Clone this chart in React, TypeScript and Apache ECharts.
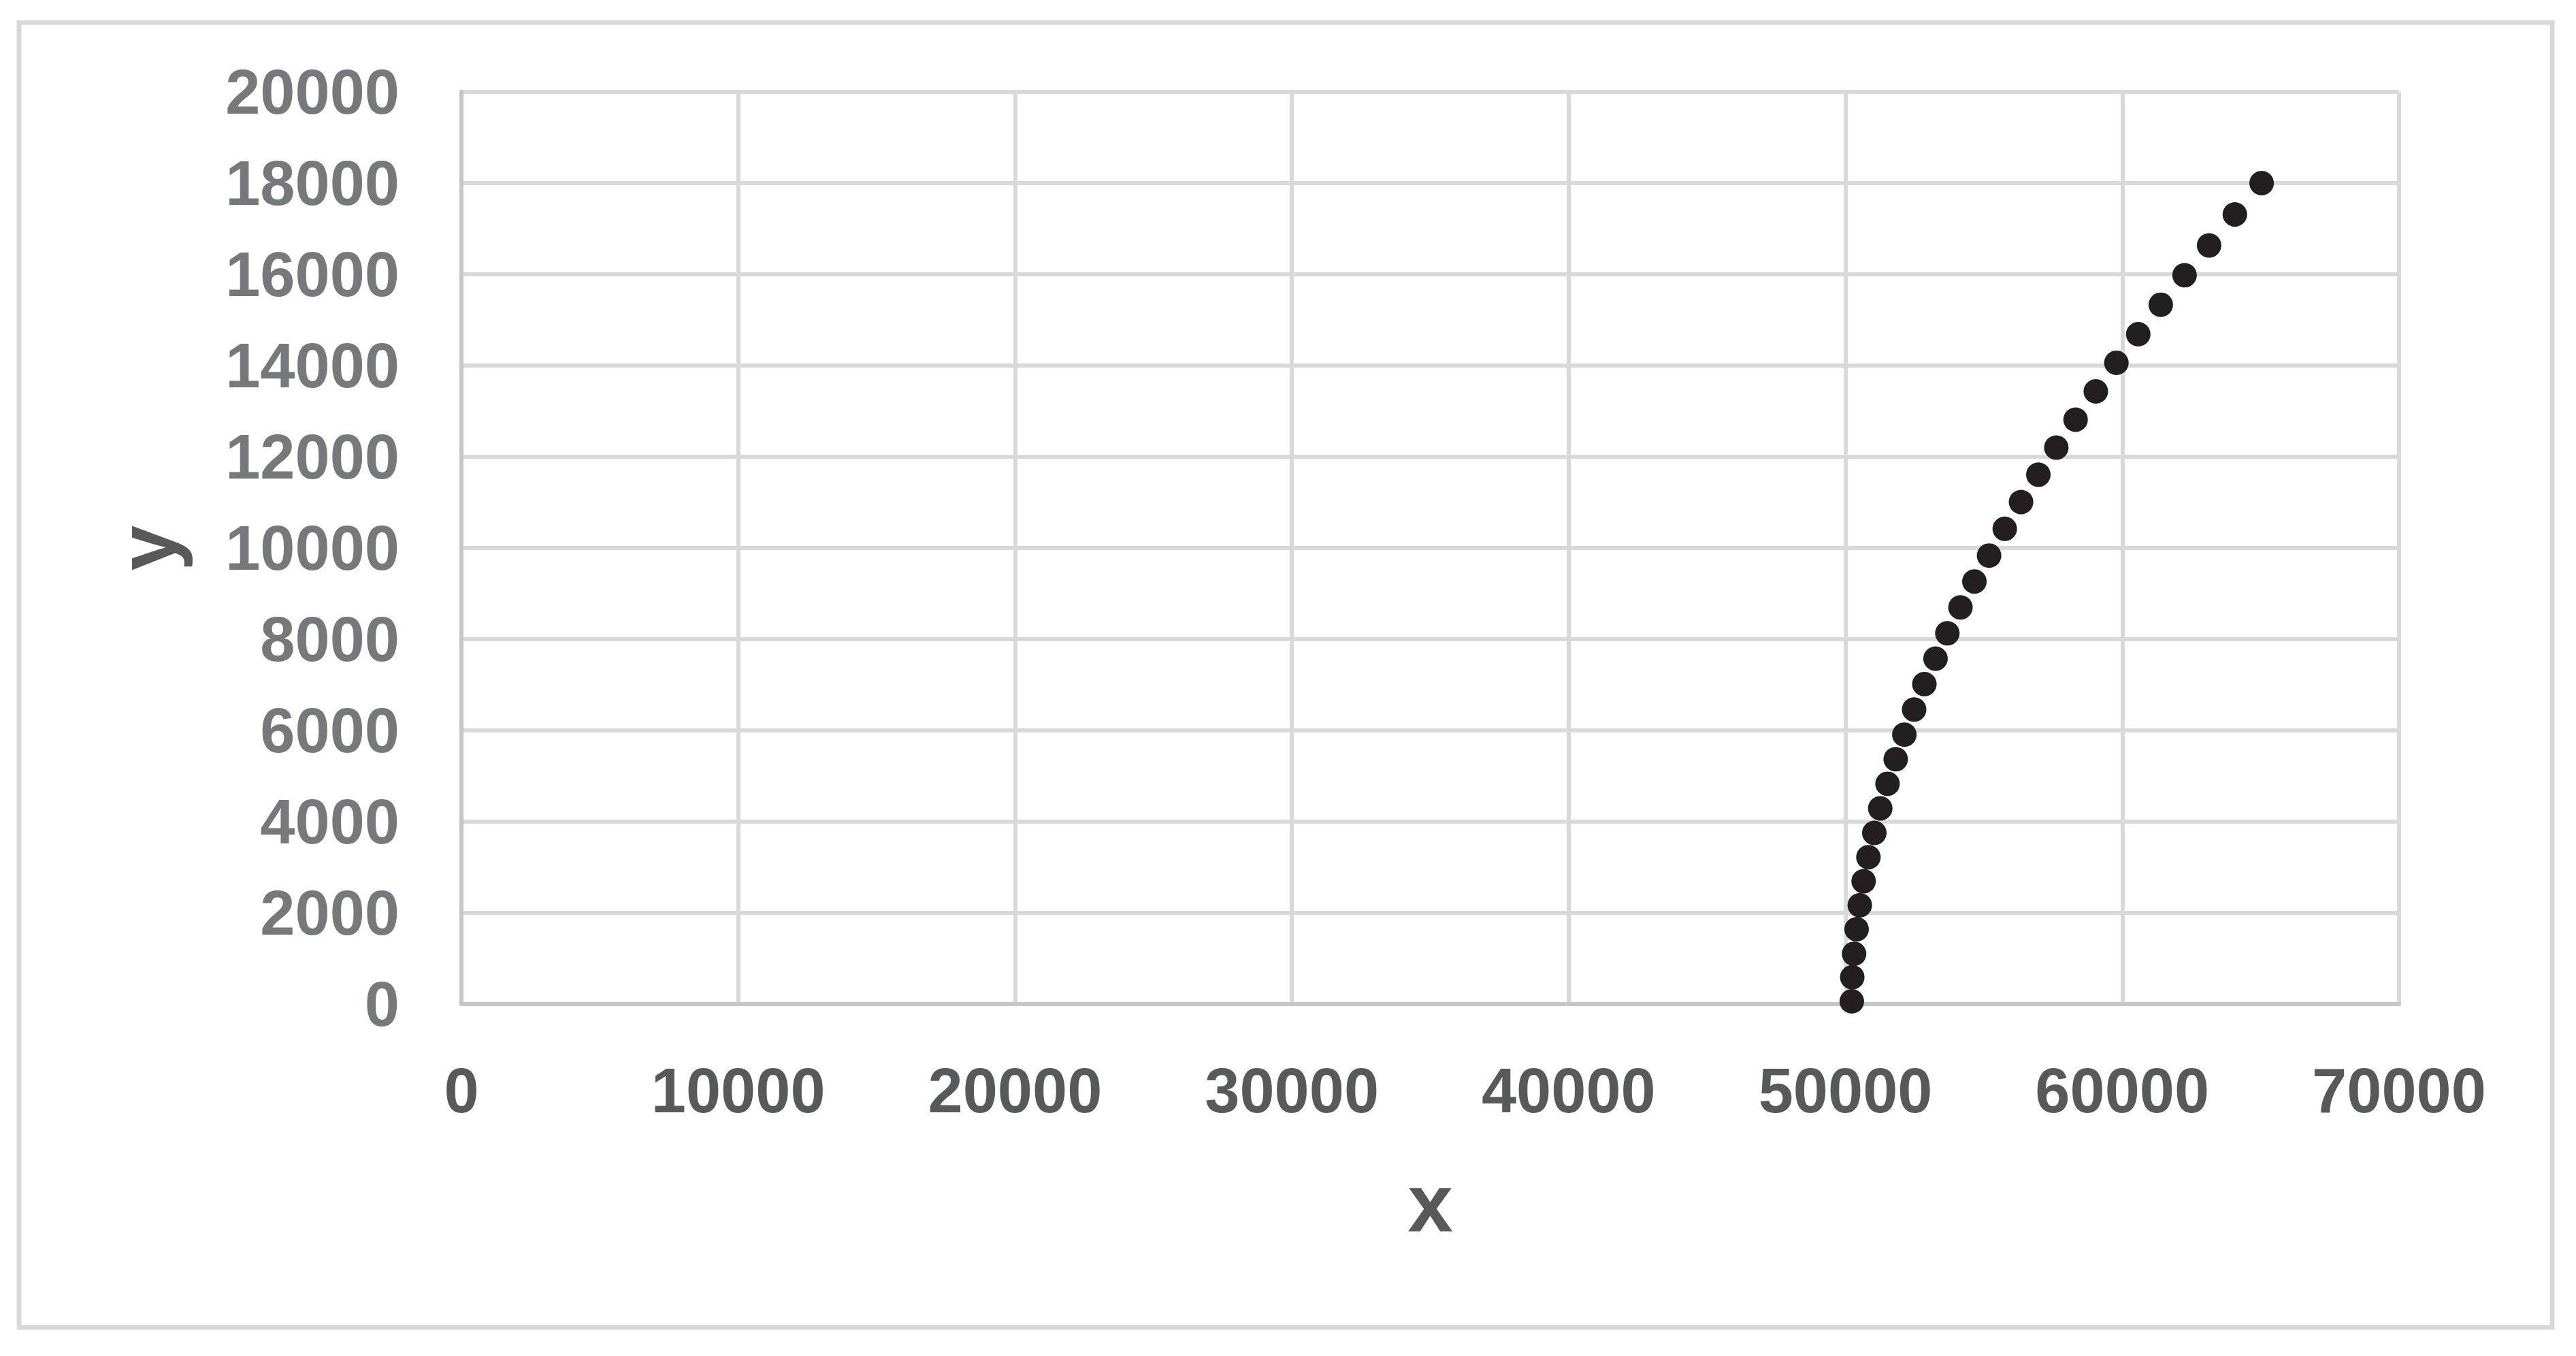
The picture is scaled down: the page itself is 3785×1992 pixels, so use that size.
import React, { useEffect, useRef } from "react";
import * as echarts from "echarts";

const xValues = [
  50230, 50246, 50312, 50403, 50518, 50657, 50830, 51043, 51257, 51520, 51816,
  52128, 52481, 52851, 53254, 53681, 54155, 54659, 55189, 55755, 56344, 56969,
  57618, 58314, 59045, 59788, 60578, 61392, 62252, 63137, 64068, 65035,
];
const yValues = [
  60, 588, 1102, 1641, 2167, 2693, 3220, 3752, 4291, 4830, 5368, 5907, 6458,
  7015, 7573, 8130, 8697, 9265, 9833, 10420, 11007, 11607, 12200, 12813, 13433,
  14060, 14687, 15333, 15980, 16633, 17313, 18000,
];
const xAxisTitle = "x";
const yAxisTitle = "y";

const FONT = "'Liberation Sans', Arial, sans-serif";
const plain = (v: number) => String(v);

export default function App() {
  const ref = useRef<HTMLDivElement>(null);
  useEffect(() => {
    if (!ref.current) return;
    const chart = echarts.init(ref.current, null, { renderer: "svg" });
    const points = xValues.map((x, i) => [x, yValues[i]]);
    chart.setOption({
      animation: false,
      backgroundColor: "#ffffff",
      grid: { left: 678, right: 260, top: 135, bottom: 517, containLabel: false },
      graphic: [
        {
          type: "rect",
          shape: { x: 28, y: 33, width: 3722, height: 1917 },
          style: { fill: "none", stroke: "#d9d9d9", lineWidth: 7 },
          silent: true,
        },
      ],
      xAxis: {
        type: "value",
        min: 0,
        max: 70000,
        interval: 10000,
        name: xAxisTitle,
        nameLocation: "middle",
        nameGap: 232,
        nameTextStyle: { fontFamily: FONT, fontWeight: "bold", fontSize: 120, color: "#595959" },
        axisLine: { show: true, onZero: false, lineStyle: { color: "#c6c6c6", width: 6 } },
        axisTick: { show: false },
        axisLabel: { margin: 81, formatter: plain, fontFamily: FONT, fontWeight: "bold", fontSize: 92, color: "#58595b" },
        splitLine: { show: true, lineStyle: { color: "#d9d9d9", width: 6 } },
      },
      yAxis: {
        type: "value",
        min: 0,
        max: 20000,
        interval: 2000,
        name: yAxisTitle,
        nameLocation: "middle",
        nameGap: 402,
        nameRotate: 90,
        nameTextStyle: { fontFamily: FONT, fontWeight: "bold", fontSize: 120, color: "#595959" },
        axisLine: { show: true, onZero: false, lineStyle: { color: "#c6c6c6", width: 6 } },
        axisTick: { show: false },
        axisLabel: { margin: 91, formatter: plain, fontFamily: FONT, fontWeight: "bold", fontSize: 92, color: "#77787b" },
        splitLine: { show: true, lineStyle: { color: "#d9d9d9", width: 6 } },
      },
      series: [
        {
          type: "scatter",
          data: points,
          symbol: "circle",
          symbolSize: 36,
          itemStyle: { color: "#231f20", opacity: 1 },
        },
      ],
    });
    return () => chart.dispose();
  }, []);
  return (
    <div
      ref={ref}
      style={{ position: "absolute", left: 0, top: 0, width: 3785, height: 1992 }}
    />
  );
}
